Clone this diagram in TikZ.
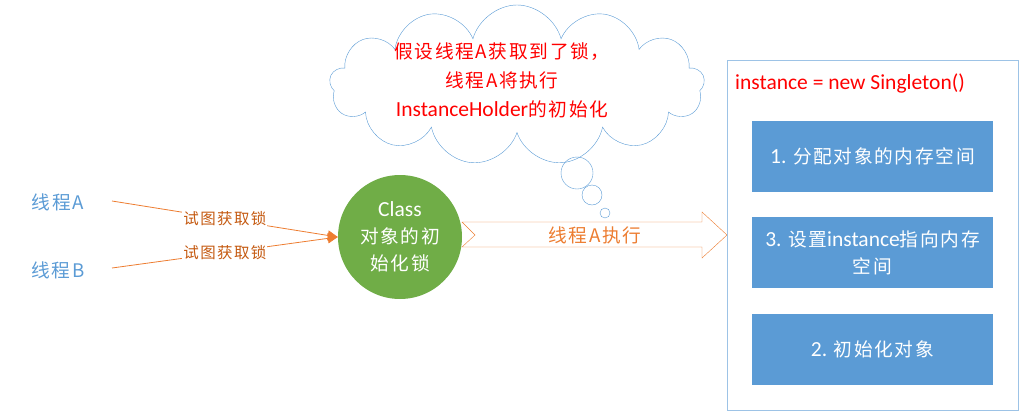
\documentclass[tikz,border=0pt]{standalone}
\usepackage{fontspec}
\setmainfont{Carlito}
\newfontfamily\cjk[Scale=0.87, LetterSpace=9]{Noto Sans CJK SC}
\newcommand{\zh}[1]{{\cjk #1}}
\usepackage{tikz}
\usetikzlibrary{shapes.geometric, shapes.symbols, positioning, arrows.meta, calc}
\definecolor{OfBlue}{RGB}{91,155,213}
\definecolor{OfLight}{RGB}{157,195,230}
\definecolor{OfOrange}{RGB}{237,125,49}
\definecolor{OfBrown}{RGB}{197,90,17}
\definecolor{OfGreen}{RGB}{112,173,71}

\begin{document}
\begin{tikzpicture}[x=1pt, y=-1pt,
          big/.style={font=\fontsize{21.5}{27}\selectfont, align=center},
          small/.style={font=\fontsize{17.8}{18}\selectfont, text=OfBrown,
                        fill=white, inner sep=1pt},
          thread/.style={big, text=OfBlue},
          stepbox/.style={rectangle, fill=OfBlue, text=white, big,
                          minimum width=241pt, minimum height=71pt},
          bubble/.style={circle, draw=OfBlue, thin, inner sep=0pt},
          arr/.style={-{Triangle[length=10pt, width=10pt]}, OfOrange, thick}
        ]
        \useasboundingbox (0,0) rectangle (1021,413);

        % Threads and lock
        \node[thread] (ta) at (58,202) {\zh{线程A}};
        \node[thread] (tb) at (58,270) {\zh{线程B}};
        \coordinate (ta0) at (112,201);
        \coordinate (tb0) at (112,268);
        \node[circle, fill=OfGreen, text=white, big, minimum size=124pt,
              inner sep=0pt] (lock) at (400,237) {Class\\\zh{对象的初}\\\zh{始化锁}};

        \draw[arr] (ta0) -- node[small]{\zh{试图获取锁}} (lock.west);
        \draw[arr] (tb0) -- node[small]{\zh{试图获取锁}} (lock.west);

        % Thought cloud
        \node[cloud, draw=OfBlue, thin, cloud puffs=13, aspect=2.4,
              minimum width=375pt, minimum height=160pt,
              inner sep=0pt] (cl) at (517,85) {};
        \node[big, text=red, font=\fontsize{21.5}{29}\selectfont] (cltxt) at (502,80)
              {\zh{假设线程A获取到了锁，}\\\zh{线程A将执行}\\InstanceHolder\zh{的初始化}};
        \node[bubble, minimum size=32pt] (b1) at (577,173) {};
        \node[bubble, minimum size=20pt] (b2) at (592,195) {};
        \node[bubble, minimum size=10pt] (b3) at (605,213) {};

        % Block arrow
        \draw[OfOrange, fill=white] (462,222) -- (702,222) -- (702,212)
              -- (727,235) -- (702,258) -- (702,247) -- (462,247)
              -- (475,235) -- cycle;
        \node[big, text=OfOrange] (run) at (595,235) {\zh{线程A执行}};

        % Instance box
        \node[draw=OfLight, minimum width=291pt, minimum height=350pt]
              (inst) at (872.5,235) {};
        \node[big, text=red, anchor=west, inner sep=0pt] (code)
              at (735,83) {instance = new Singleton()};
        \node[stepbox] (s1) at (872.5,156) {1. \zh{分配对象的内存空间}};
        \node[stepbox] (s3) at (872.5,252.5) {3. \zh{设置}instance\zh{指向内存}\\\zh{空间}};
        \node[stepbox] (s2) at (872.5,349) {2. \zh{初始化对象}};
      \end{tikzpicture}
\end{document}
